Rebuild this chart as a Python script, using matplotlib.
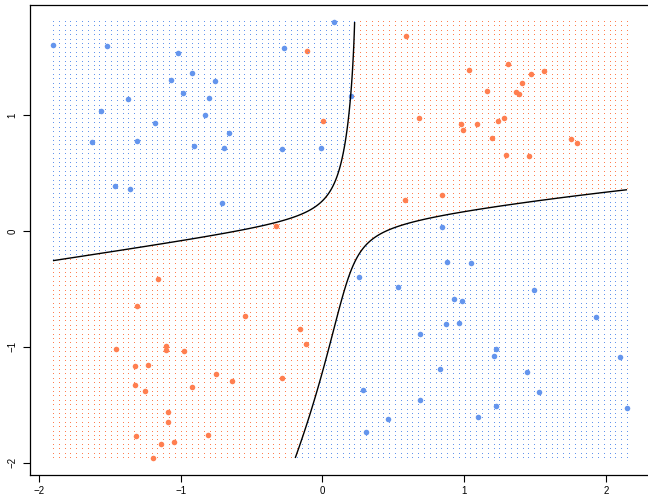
import numpy as np
import matplotlib
matplotlib.use("Agg")
import matplotlib.pyplot as plt

plt.rcParams['font.family'] = ['Liberation Sans', 'DejaVu Sans']

# Class "blue" training points
blue_x = [-1.902, -1.521, -1.020, -0.921, -1.069, -0.759, -0.984, -0.801, -1.373, -1.563,
          -0.829, -1.182, -1.627, -1.309, -0.907, 0.081, -0.272, 0.201, -0.660, -0.695,
          -0.286, -0.011, -1.464, -1.358, -0.709, 0.258, 0.533, 0.843, 0.879, 1.048,
          0.688, 0.286, 1.493, 0.928, 0.984, 1.930, 0.872, 0.963, 1.224, 1.210,
          2.099, 0.829, 1.443, 1.528, 1.224, 2.149, 0.688, 1.097, 0.462, 0.307]
blue_y = [1.606, 1.598, 1.537, 1.364, 1.304, 1.295, 1.192, 1.149, 1.140, 1.036,
          1.002, 0.933, 0.769, 0.777, 0.734, 1.805, 1.580, 1.166, 0.846, 0.717,
          0.708, 0.717, 0.389, 0.363, 0.242, -0.397, -0.484, 0.035, -0.268, -0.276,
          -0.890, -1.373, -0.510, -0.587, -0.605, -0.743, -0.803, -0.795, -1.019, -1.080,
          -1.088, -1.192, -1.218, -1.390, -1.511, -1.529, -1.459, -1.606, -1.624, -1.736]

# Class "orange" training points
orange_x = [-0.109, 0.589, 0.004, 0.681, 1.034, 1.309, 1.471, 1.563, 1.408, 1.161,
            1.366, 1.387, 1.281, 1.238, 0.977, 1.090, 0.992, 1.196, 1.754, 1.796,
            1.295, 1.457, 0.582, -0.328, 0.843, -1.161, -1.309, -1.457, -1.104, -1.104,
            -0.977, -1.323, -1.231, -0.752, -1.323, -1.253, -0.921, -0.547, -0.159, -0.116,
            -0.639, -0.286, -1.090, -1.090, -1.316, -0.808, -1.140, -1.048, -1.196]
orange_y = [1.554, 1.684, 0.950, 0.976, 1.390, 1.442, 1.356, 1.382, 1.278, 1.209,
            1.200, 1.183, 0.976, 0.950, 0.924, 0.924, 0.872, 0.803, 0.795, 0.760,
            0.656, 0.648, 0.268, 0.043, 0.311, -0.415, -0.648, -1.019, -0.993, -1.028,
            -1.036, -1.166, -1.157, -1.235, -1.330, -1.382, -1.347, -0.734, -0.846, -0.976,
            -1.295, -1.269, -1.563, -1.649, -1.770, -1.762, -1.839, -1.822, -1.960]

# Decision boundary points (used to fit a smooth boundary)
boundary_x = [-1.866, -1.287, -0.723, -0.323, -0.018, 0.053, 0.112, 0.194, 0.218, 0.225,
              -0.194, -0.171, 0.006, 0.041, 0.147, 0.265, 0.429, 0.476, 0.759, 0.829,
              1.464, 1.817, 2.147]
boundary_y = [-0.250, -0.138, -0.020, 0.058, 0.239, 0.369, 0.527, 1.131, 1.419, 1.799,
              -1.960, -1.891, -1.200, -1.028, -0.509, -0.178, -0.006, 0.009, 0.110, 0.132,
              0.253, 0.302, 0.360]

BLUE = '#6495ED'
ORANGE = '#FF7F50'


def features(x, y):
    return [np.ones_like(x), x, y, x * y, x ** 2, y ** 2,
            x ** 2 * y, x * y ** 2, x ** 3, y ** 3]


bx, by = np.array(boundary_x), np.array(boundary_y)
M = np.column_stack(features(bx, by))
coef = np.linalg.svd(M)[2][-1]


def f(x, y):
    return sum(c * t for c, t in zip(coef, features(x, y)))


sgn = np.sign(f(np.mean(orange_x[4:22]), np.mean(orange_y[4:22])))

all_x = np.array(blue_x + orange_x)
all_y = np.array(blue_y + orange_y)
gx = np.linspace(all_x.min(), all_x.max(), 100)
gy = np.linspace(all_y.min(), all_y.max(), 100)
GX, GY = np.meshgrid(gx, gy)
is_orange = sgn * f(GX, GY) > 0

fig = plt.figure(figsize=(6.48, 4.98), dpi=100)
ax = fig.add_axes([30 / 648, 23 / 498, 620 / 648, 470 / 498])

ax.plot(GX[~is_orange], GY[~is_orange], ',', color=BLUE, linestyle='none')
ax.plot(GX[is_orange], GY[is_orange], ',', color=ORANGE, linestyle='none')

fx = np.linspace(all_x.min(), all_x.max(), 600)
fy = np.linspace(all_y.min(), all_y.max(), 600)
FX, FY = np.meshgrid(fx, fy)
ax.contour(FX, FY, f(FX, FY), levels=[0], colors='black', linewidths=1.0)

ax.scatter(blue_x, blue_y, s=16, c=BLUE, linewidths=0)
ax.scatter(orange_x, orange_y, s=16, c=ORANGE, linewidths=0)

ax.set_xlim(-2.064, 2.311)
ax.set_ylim(-2.107, 1.952)
ax.set_xticks([-2, -1, 0, 1, 2])
ax.set_xticklabels(['\u22122', '\u22121', '0', '1', '2'])
ax.set_yticks([-2, -1, 0, 1])
ax.set_yticklabels(['\u22122', '\u22121', '0', '1'], rotation=90, va='center')
ax.tick_params(axis='both', direction='out', length=5, width=0.8, labelsize=7)
ax.tick_params(axis='x', pad=3)
ax.tick_params(axis='y', pad=4)
for s in ax.spines.values():
    s.set_linewidth(0.9)

fig.savefig('out.png', dpi=100)
